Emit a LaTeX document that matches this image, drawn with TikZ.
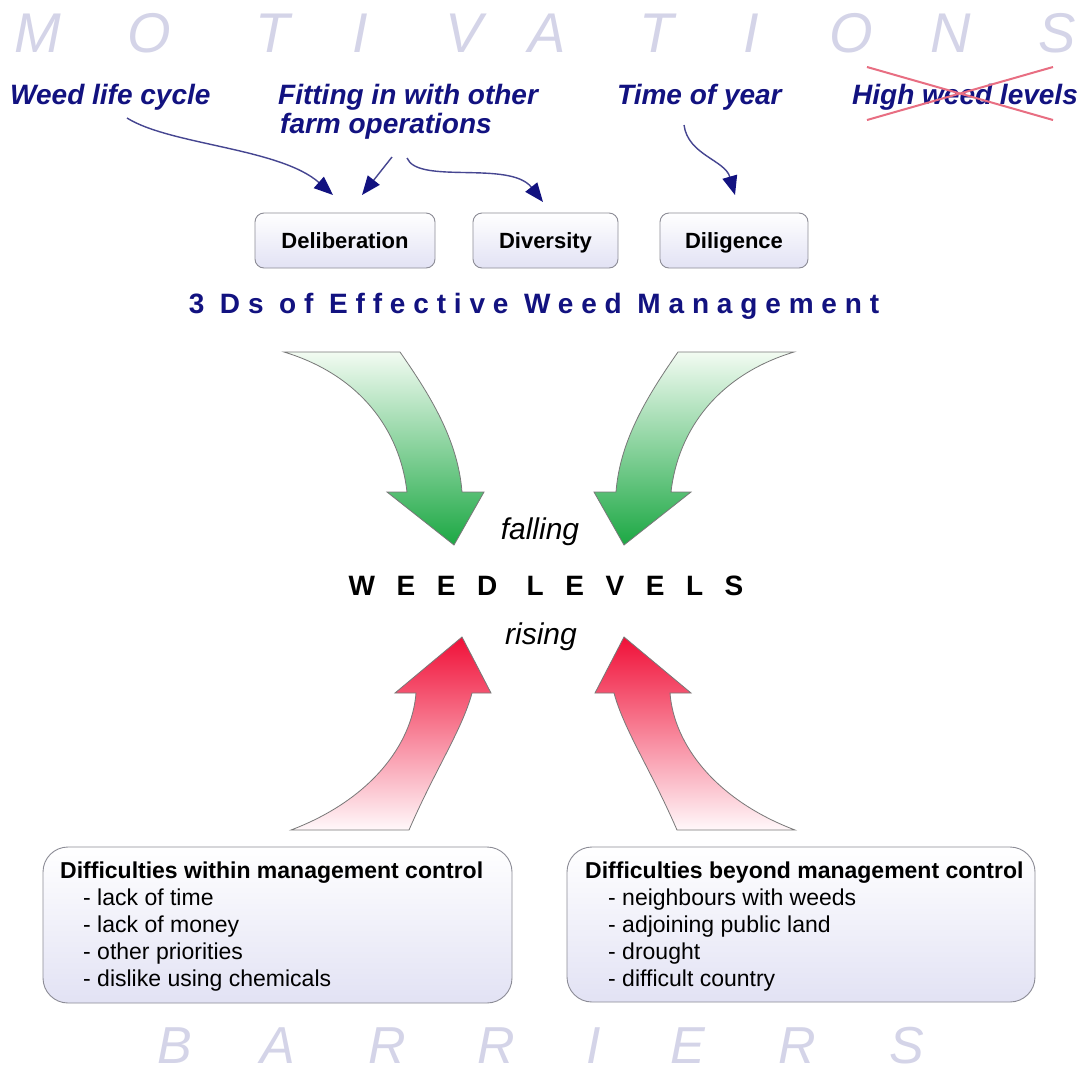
\documentclass[tikz,border=0pt]{standalone}
\usepackage{fontspec}
\setmainfont{Liberation Sans}
\newfontfamily\spacedA[LetterSpace=28]{Liberation Sans}
\newfontfamily\spacedB[LetterSpace=77]{Liberation Sans}
\usetikzlibrary{arrows.meta}
\definecolor{navy}{RGB}{18,18,128}
\definecolor{navyline}{RGB}{70,70,145}
\definecolor{ghost}{RGB}{212,212,232}
\definecolor{crossred}{RGB}{232,110,130}
\definecolor{boxedge}{RGB}{140,140,150}
\definecolor{lav}{RGB}{226,226,244}
\definecolor{greenT}{RGB}{242,251,242}
\definecolor{greenB}{RGB}{28,168,68}
\definecolor{redT}{RGB}{240,16,56}
\definecolor{redB}{RGB}{255,248,250}
\definecolor{arrowedge}{RGB}{120,120,120}
\tikzset{
  ghostM/.style={text=ghost, font=\fontsize{56}{56}\selectfont\itshape, inner sep=0pt},
  ghostB/.style={text=ghost, font=\fontsize{52}{52}\selectfont\itshape, inner sep=0pt},
  motiv/.style={text=navy, font=\fontsize{28}{29}\selectfont\bfseries\itshape, inner sep=0pt, anchor=base west},
  conn/.style={draw=navyline, line width=1.4pt, -{Triangle[length=19pt,width=15pt,color=navy]}},
  dbox/.style={draw=boxedge, line width=0.9pt, rounded corners=9pt, top color=white, bottom color=lav,
    minimum height=55pt, inner sep=0pt, font=\fontsize{22}{22}\selectfont\bfseries, text height=16pt, text depth=0pt},
  bbox/.style={draw=boxedge, line width=0.9pt, rounded corners=25pt, top color=white, bottom color=lav, inner sep=0pt},
  bhead/.style={font=\fontsize{23}{27}\selectfont\bfseries, inner sep=0pt, anchor=base west},
  bitem/.style={font=\fontsize{23}{27}\selectfont, inner sep=0pt, anchor=base west},
  bigarrow/.style={draw=arrowedge, line width=0.8pt},
  midword/.style={font=\fontsize{30}{30}\selectfont\itshape, inner sep=0pt, anchor=base}
}
\begin{document}
\begin{tikzpicture}[x=1pt,y=-1pt]
\useasboundingbox (0,0) rectangle (1085,1074);
\fill[white] (0,0) rectangle (1085,1074);

% ghost titles
\foreach \ch/\xx [count=\i] in {M/38,O/149,T/273,I/360,V/464,A/547,T/657,I/751,O/851,N/951,S/1057}
  \node[ghostM] (mot\i) at (\xx,33) {\ch};
\foreach \ch/\xx [count=\i] in {B/175,A/278,R/387,R/496,I/594,E/688,R/797,S/907}
  \node[ghostB] (bar\i) at (\xx,1046) {\ch};

% motivations
\node[motiv] (life) at (10,104) {Weed life cycle};
\node[motiv] (fit1) at (278,104) {Fitting in with other};
\node[motiv] (fit2) at (280,133) {farm operations};
\node[motiv] (time) at (617,104) {Time of year};
\node[motiv] (high) at (852,104) {High weed levels};
\coordinate (x1) at (867,67); \coordinate (x2) at (1053,120);
\coordinate (x3) at (867,120); \coordinate (x4) at (1053,67);
\draw[crossred, line width=2pt] (x1) -- (x2) (x3) -- (x4);

% 3 D boxes
\node[dbox, minimum width=180pt] (delib) at (345,240.5) {Deliberation};
\node[dbox, minimum width=145pt] (divers) at (545.5,240.5) {Diversity};
\node[dbox, minimum width=148pt] (dilig) at (734,240.5) {Diligence};

% connectors
\coordinate (s1) at (127,118); \coordinate (t1) at (333,195);
\coordinate (s2) at (392,157); \coordinate (t2) at (362,195);
\coordinate (s3) at (407,158); \coordinate (t3) at (543,202);
\coordinate (s4) at (684,125); \coordinate (t4) at (735,195);
\draw[conn] (s1) .. controls (170,145) and (280,148) .. (t1);
\draw[conn] (s2) -- (t2);
\draw[conn] (s3) .. controls (418,185) and (510,160) .. (t3);
\draw[conn] (s4) .. controls (688,155) and (725,160) .. (t4);

\node[text=navy, font=\spacedA\fontsize{28}{28}\selectfont\bfseries, inner sep=0pt, anchor=base] (threeD) at (534,313) {3 Ds of Effective Weed Management};

% green arrows
\shade[bigarrow, top color=greenT, bottom color=greenB]
  (284,352) -- (400,352) .. controls (430,395) and (458,440) .. (462,492) -- (484,492) -- (454,545)
  -- (387,492) -- (407,492) .. controls (400,430) and (360,375) .. (284,352) -- cycle;
\begin{scope}[xshift=1078pt, xscale=-1]
\shade[bigarrow, top color=greenT, bottom color=greenB]
  (284,352) -- (400,352) .. controls (430,395) and (458,440) .. (462,492) -- (484,492) -- (454,545)
  -- (387,492) -- (407,492) .. controls (400,430) and (360,375) .. (284,352) -- cycle;
\end{scope}

% red arrows
\shade[bigarrow, top color=redT, bottom color=redB]
  (291,830) -- (409,830) .. controls (435,770) and (462,730) .. (472,693) -- (491,693) -- (462,637)
  -- (395,693) -- (416,693) .. controls (412,745) and (370,800) .. (291,830) -- cycle;
\begin{scope}[xshift=1086pt, xscale=-1]
\shade[bigarrow, top color=redT, bottom color=redB]
  (291,830) -- (409,830) .. controls (435,770) and (462,730) .. (472,693) -- (491,693) -- (462,637)
  -- (395,693) -- (416,693) .. controls (412,745) and (370,800) .. (291,830) -- cycle;
\end{scope}

% centre words
\node[midword] (falling) at (540,539) {falling};
\node[font=\spacedB\fontsize{28}{28}\selectfont\bfseries, inner sep=0pt, anchor=base] (weed) at (546,595) {WEED LEVELS};
\node[midword] (rising) at (541,644) {rising};

% bottom boxes
\node[bbox, minimum width=469pt, minimum height=156pt] (within) at (277.5,925) {};
\node[bhead] (wh) at (60,878) {Difficulties within management control};
\node[bitem] (w1) at (83,905) {- lack of time};
\node[bitem] (w2) at (83,932) {- lack of money};
\node[bitem] (w3) at (83,959) {- other priorities};
\node[bitem] (w4) at (83,986) {- dislike using chemicals};

\node[bbox, minimum width=468pt, minimum height=155pt] (beyond) at (801,924.5) {};
\node[bhead] (bh) at (585,878) {Difficulties beyond management control};
\node[bitem] (b1) at (608,905) {- neighbours with weeds};
\node[bitem] (b2) at (608,932) {- adjoining public land};
\node[bitem] (b3) at (608,959) {- drought};
\node[bitem] (b4) at (608,986) {- difficult country};
\end{tikzpicture}
\end{document}
